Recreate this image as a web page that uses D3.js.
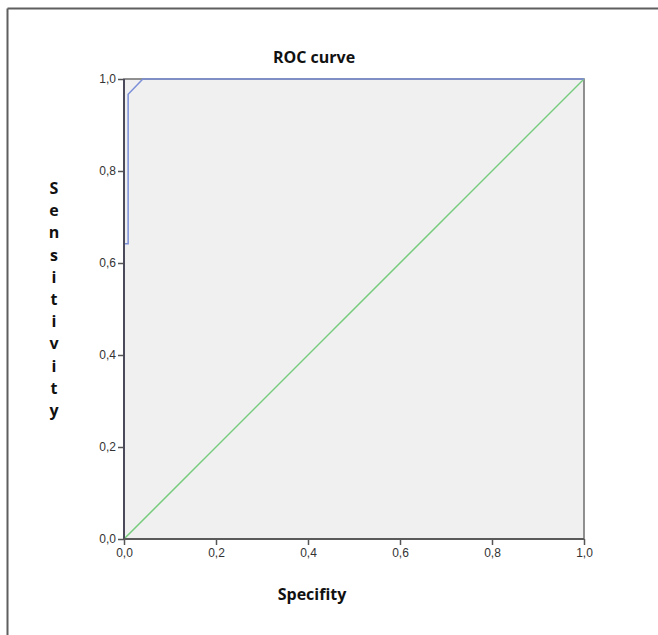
<!DOCTYPE html>
<html>
<head>
<meta charset="utf-8">
<script src="https://cdn.jsdelivr.net/npm/d3@7"></script>
<style>
  body { margin: 0; background: #fff; }
  svg { display: block; }
</style>
</head>
<body>
<svg id="chart" width="658" height="635"></svg>
<script>
// ROC curve points (x = 1 - specificity, y = sensitivity)
const rocX = [0, 0, 0.009, 0.009, 0.041, 1];
const rocY = [0, 0.642, 0.642, 0.967, 1, 1];
const refX = [0, 1];
const refY = [0, 1];
const tickValues = [0, 0.2, 0.4, 0.6, 0.8, 1];
const yLabelLetters = "Sensitivity".split("");

const svg = d3.select("#chart");
const plotLeft = 124, plotRight = 584, plotTop = 79, plotBottom = 539;

const x = d3.scaleLinear().domain([0, 1]).range([plotLeft, plotRight]);
const y = d3.scaleLinear().domain([0, 1]).range([plotBottom, plotTop]);
const fmt = d => d3.format(".1f")(d).replace(".", ",");

// outer frame (only top and left edges visible)
svg.append("line").attr("x1", 7.5).attr("x2", 658).attr("y1", 8.5).attr("y2", 8.5)
  .attr("stroke", "#5f5f5f").attr("stroke-width", 2);
svg.append("line").attr("x1", 7.5).attr("x2", 7.5).attr("y1", 8.5).attr("y2", 635)
  .attr("stroke", "#5f5f5f").attr("stroke-width", 2);

// plot background
svg.append("rect")
  .attr("x", plotLeft).attr("y", plotTop)
  .attr("width", plotRight - plotLeft).attr("height", plotBottom - plotTop)
  .attr("fill", "#f0f0f0")
  .attr("stroke", "#6e6e6e").attr("stroke-width", 1.5);

// reference diagonal
const line = d3.line().x(d => x(d[0])).y(d => y(d[1]));
svg.append("path")
  .datum(d3.zip(refX, refY))
  .attr("d", line)
  .attr("fill", "none")
  .attr("stroke", "#78cc7e")
  .attr("stroke-width", 1.5);

// ROC curve
svg.append("path")
  .datum(d3.zip(rocX, rocY))
  .attr("d", line)
  .attr("fill", "none")
  .attr("stroke", "#7b8fd8")
  .attr("stroke-width", 1.5);

// axes
const yAxis = d3.axisLeft(y).tickValues(tickValues).tickFormat(fmt).tickSize(6).tickPadding(2);
const xAxis = d3.axisBottom(x).tickValues(tickValues).tickFormat(fmt).tickSize(6).tickPadding(3);

const gy = svg.append("g").attr("transform", `translate(${plotLeft},0)`).call(yAxis);
const gx = svg.append("g").attr("transform", `translate(0,${plotBottom})`).call(xAxis);

[gx, gy].forEach(g => {
  g.select(".domain").remove();
  g.selectAll(".tick line").attr("stroke", "#555").attr("stroke-width", 1.5);
  g.selectAll(".tick text")
    .attr("fill", "#333")
    .style("font-family", "'Liberation Sans', Arial, sans-serif")
    .style("font-size", "12px");
});

// axis lines
svg.append("line").attr("x1", plotLeft).attr("x2", plotLeft).attr("y1", plotTop).attr("y2", plotBottom)
  .attr("stroke", "#4a4a5a").attr("stroke-width", 2);
svg.append("line").attr("x1", plotLeft).attr("x2", plotRight).attr("y1", plotBottom).attr("y2", plotBottom)
  .attr("stroke", "#5a5a5a").attr("stroke-width", 2);

const labelFont = g => g
  .style("font-family", "'Open Sans', sans-serif")
  .style("font-weight", "bold")
  .style("font-size", "16px")
  .attr("fill", "#111");

// title
svg.append("text")
  .attr("x", 314).attr("y", 63)
  .attr("text-anchor", "middle")
  .call(labelFont)
  .text("ROC curve");

// x label
svg.append("text")
  .attr("x", 312).attr("y", 600)
  .attr("text-anchor", "middle")
  .call(labelFont)
  .text("Specifity");

// y label, letters stacked vertically
svg.append("g").selectAll("text")
  .data(yLabelLetters)
  .join("text")
  .attr("x", 54)
  .attr("y", (d, i) => 194 + i * 22.2)
  .attr("text-anchor", "middle")
  .call(labelFont)
  .text(d => d);
</script>
</body>
</html>
